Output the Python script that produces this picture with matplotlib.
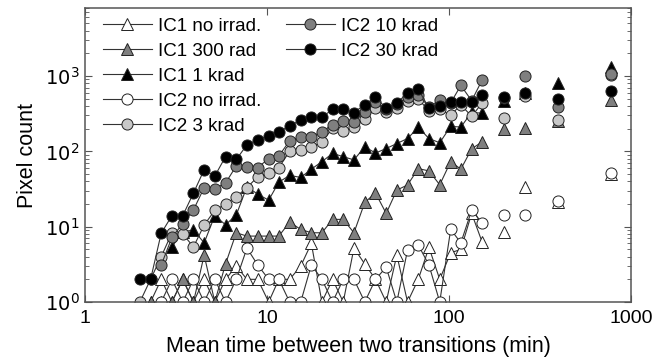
import numpy as np
import matplotlib.pyplot as plt
from matplotlib.lines import Line2D

nan = np.nan

# bin centres (min), continuous part and the sparse tail
x_main = [2.0, 2.29, 2.62, 3.0, 3.44, 3.94, 4.51, 5.16, 5.91, 6.77, 7.75, 8.88,
          10.2, 11.6, 13.3, 15.3, 17.5, 20.0, 22.9, 26.2, 30.0, 34.4, 39.4, 45.1,
          51.6, 59.1, 67.7, 77.5, 88.8, 102, 116, 133, 152]
x_tail = [200, 262, 394, 775]

# pixel counts (nan = empty bin)
ic1_none = [nan, 1, 2, 1, 2, 1, 2, 1, 2, 3, 2, 2, 1, 2, 2, 3, 6, 1, 2, 1,
            5.2, 3.2, 2, 1, 4.2, 1, 2, 5.3, 2, 4.5, 5, 15, 6.2]
ic1_300 = [nan, 1, 1, 1, 2, 1, 4.2, 1, 3.2, 8.3, 7.5, 7.5, 7.5, 7.5, 11.5, 9.2, 8.3,
           8.3, 12.5, 12.5, 8.3, 21, 28, 15, 30.6, 35.8, 59, 55, 36, 73, 58, 108, 134]
ic1_1k = [nan, nan, nan, 5.4, 8.6, 9.0, 6.1, 14, 10.6, 14.3, 34, 27, 22.5, 39, 48, 45,
          58, 73, 94, 85, 77, 115, 95, 109, 127, 148, 208, 148, 130, 215, 210, 330, 320]
ic2_none = [nan, nan, 1, 2, 1, 2, 1, 2, 1, 2, 5.2, 3.1, 2, 2, 1, 1, 3.1, 2, 1, 2,
            2, 1, 2, 2.9, 1, 4.9, 5.7, 3.1, 1, 9.2, 6.1, 16.5, 11.2]
ic2_3k = [1, 2, 4, 8.3, 8, 5.4, 10.5, 16.5, 20, 25, 33, 46, 52, 61, 100, 104, 113,
          134, 202, 188, 212, 270, 380, 330, 380, 470, 500, 340, 360, 303, 414, 292, 440]
ic2_10k = [nan, nan, 3.1, 7.2, 11, 16.7, 33, 32, 38, 64, 62, 61, 80, 87, 138, 156, 156,
           183, 225, 255, 247, 330, 450, 370, 430, 520, 560, 390, 480, 440, 750, 470, 890]
ic2_30k = [2, 2, 8.2, 14, 14, 28, 57, 47, 85, 78, 122, 143, 160, 180, 220, 260, 284,
           284, 362, 362, 327, 418, 523, 374, 435, 600, 668, 374, 405, 450, 457, 457, 565]

tail = {
    "ic1_none": [8.6, 34, 21, 50],
    "ic1_300": [196, 203, 250, 480],
    "ic1_1k": [470, 590, 800, 1330],
    "ic2_none": [14.3, 14.3, 22, 52],
    "ic2_3k": [275, 540, 261, 1030],
    "ic2_10k": [510, 1000, 385, 1070],
    "ic2_30k": [523, 600, 492, 640],
}

series = [
    ("IC1 no irrad.", ic1_none, "ic1_none", "^", "white"),
    ("IC1 300 rad", ic1_300, "ic1_300", "^", "#7f7f7f"),
    ("IC1 1 krad", ic1_1k, "ic1_1k", "^", "black"),
    ("IC2 no irrad.", ic2_none, "ic2_none", "o", "white"),
    ("IC2 3 krad", ic2_3k, "ic2_3k", "o", "#c8c8c8"),
    ("IC2 10 krad", ic2_10k, "ic2_10k", "o", "#7f7f7f"),
    ("IC2 30 krad", ic2_30k, "ic2_30k", "o", "black"),
]

plt.rcParams['font.family'] = ['Liberation Sans', 'DejaVu Sans']

fig = plt.figure(figsize=(6.7, 3.63), dpi=100)
ax = fig.add_axes([0.127, 0.168, 0.815, 0.81])

edge = "#222222"
handles = []
for label, vals, key, mk, fc in series:
    ms = 8 if mk == "o" else 8.5
    ax.plot(x_main, vals, color="#333333", lw=0.8, marker=mk, ms=ms,
            mfc=fc, mec=edge, mew=0.7)
    ax.plot(x_tail, tail[key], ls="none", marker=mk, ms=ms,
            mfc=fc, mec=edge, mew=0.7)
    handles.append(Line2D([], [], color="#333333", lw=0.8, marker=mk, ms=ms,
                          mfc=fc, mec=edge, mew=0.7, label=label))

ax.set_xscale("log")
ax.set_yscale("log")
ax.set_xlim(1, 1000)
ax.set_ylim(1, 8000)
ax.set_xticks([1, 10, 100, 1000])
ax.set_xticklabels(["1", "10", "100", "1000"])
ax.set_yticks([1, 10, 100, 1000])
ax.set_yticklabels([r"$10^0$", r"$10^1$", r"$10^2$", r"$10^3$"])
ax.xaxis.set_minor_locator(plt.NullLocator())
ax.tick_params(which="both", direction="in", top=True, right=True,
               labelsize=14, color="#555555")
ax.tick_params(which="major", length=5)
ax.tick_params(which="minor", length=3)
ax.tick_params(axis="x", pad=6)
ax.tick_params(axis="y", pad=4)
for s in ax.spines.values():
    s.set_color("#555555")
    s.set_linewidth(1.1)

ax.set_xlabel("Mean time between two transitions (min)", fontsize=15.5, labelpad=6)
ax.set_ylabel("Pixel count", fontsize=15.5, labelpad=5)

leg_kw = dict(frameon=False, fontsize=13.5, handlelength=2.6, handletextpad=0.35,
              labelspacing=0.42, borderaxespad=0, borderpad=0, loc="upper left")
leg1 = ax.legend(handles=handles[:5], bbox_to_anchor=(0.033, 0.968), **leg_kw)
ax.add_artist(leg1)
ax.legend(handles=handles[5:], bbox_to_anchor=(0.368, 0.968), **leg_kw)

fig.savefig("out.png", dpi=100)
